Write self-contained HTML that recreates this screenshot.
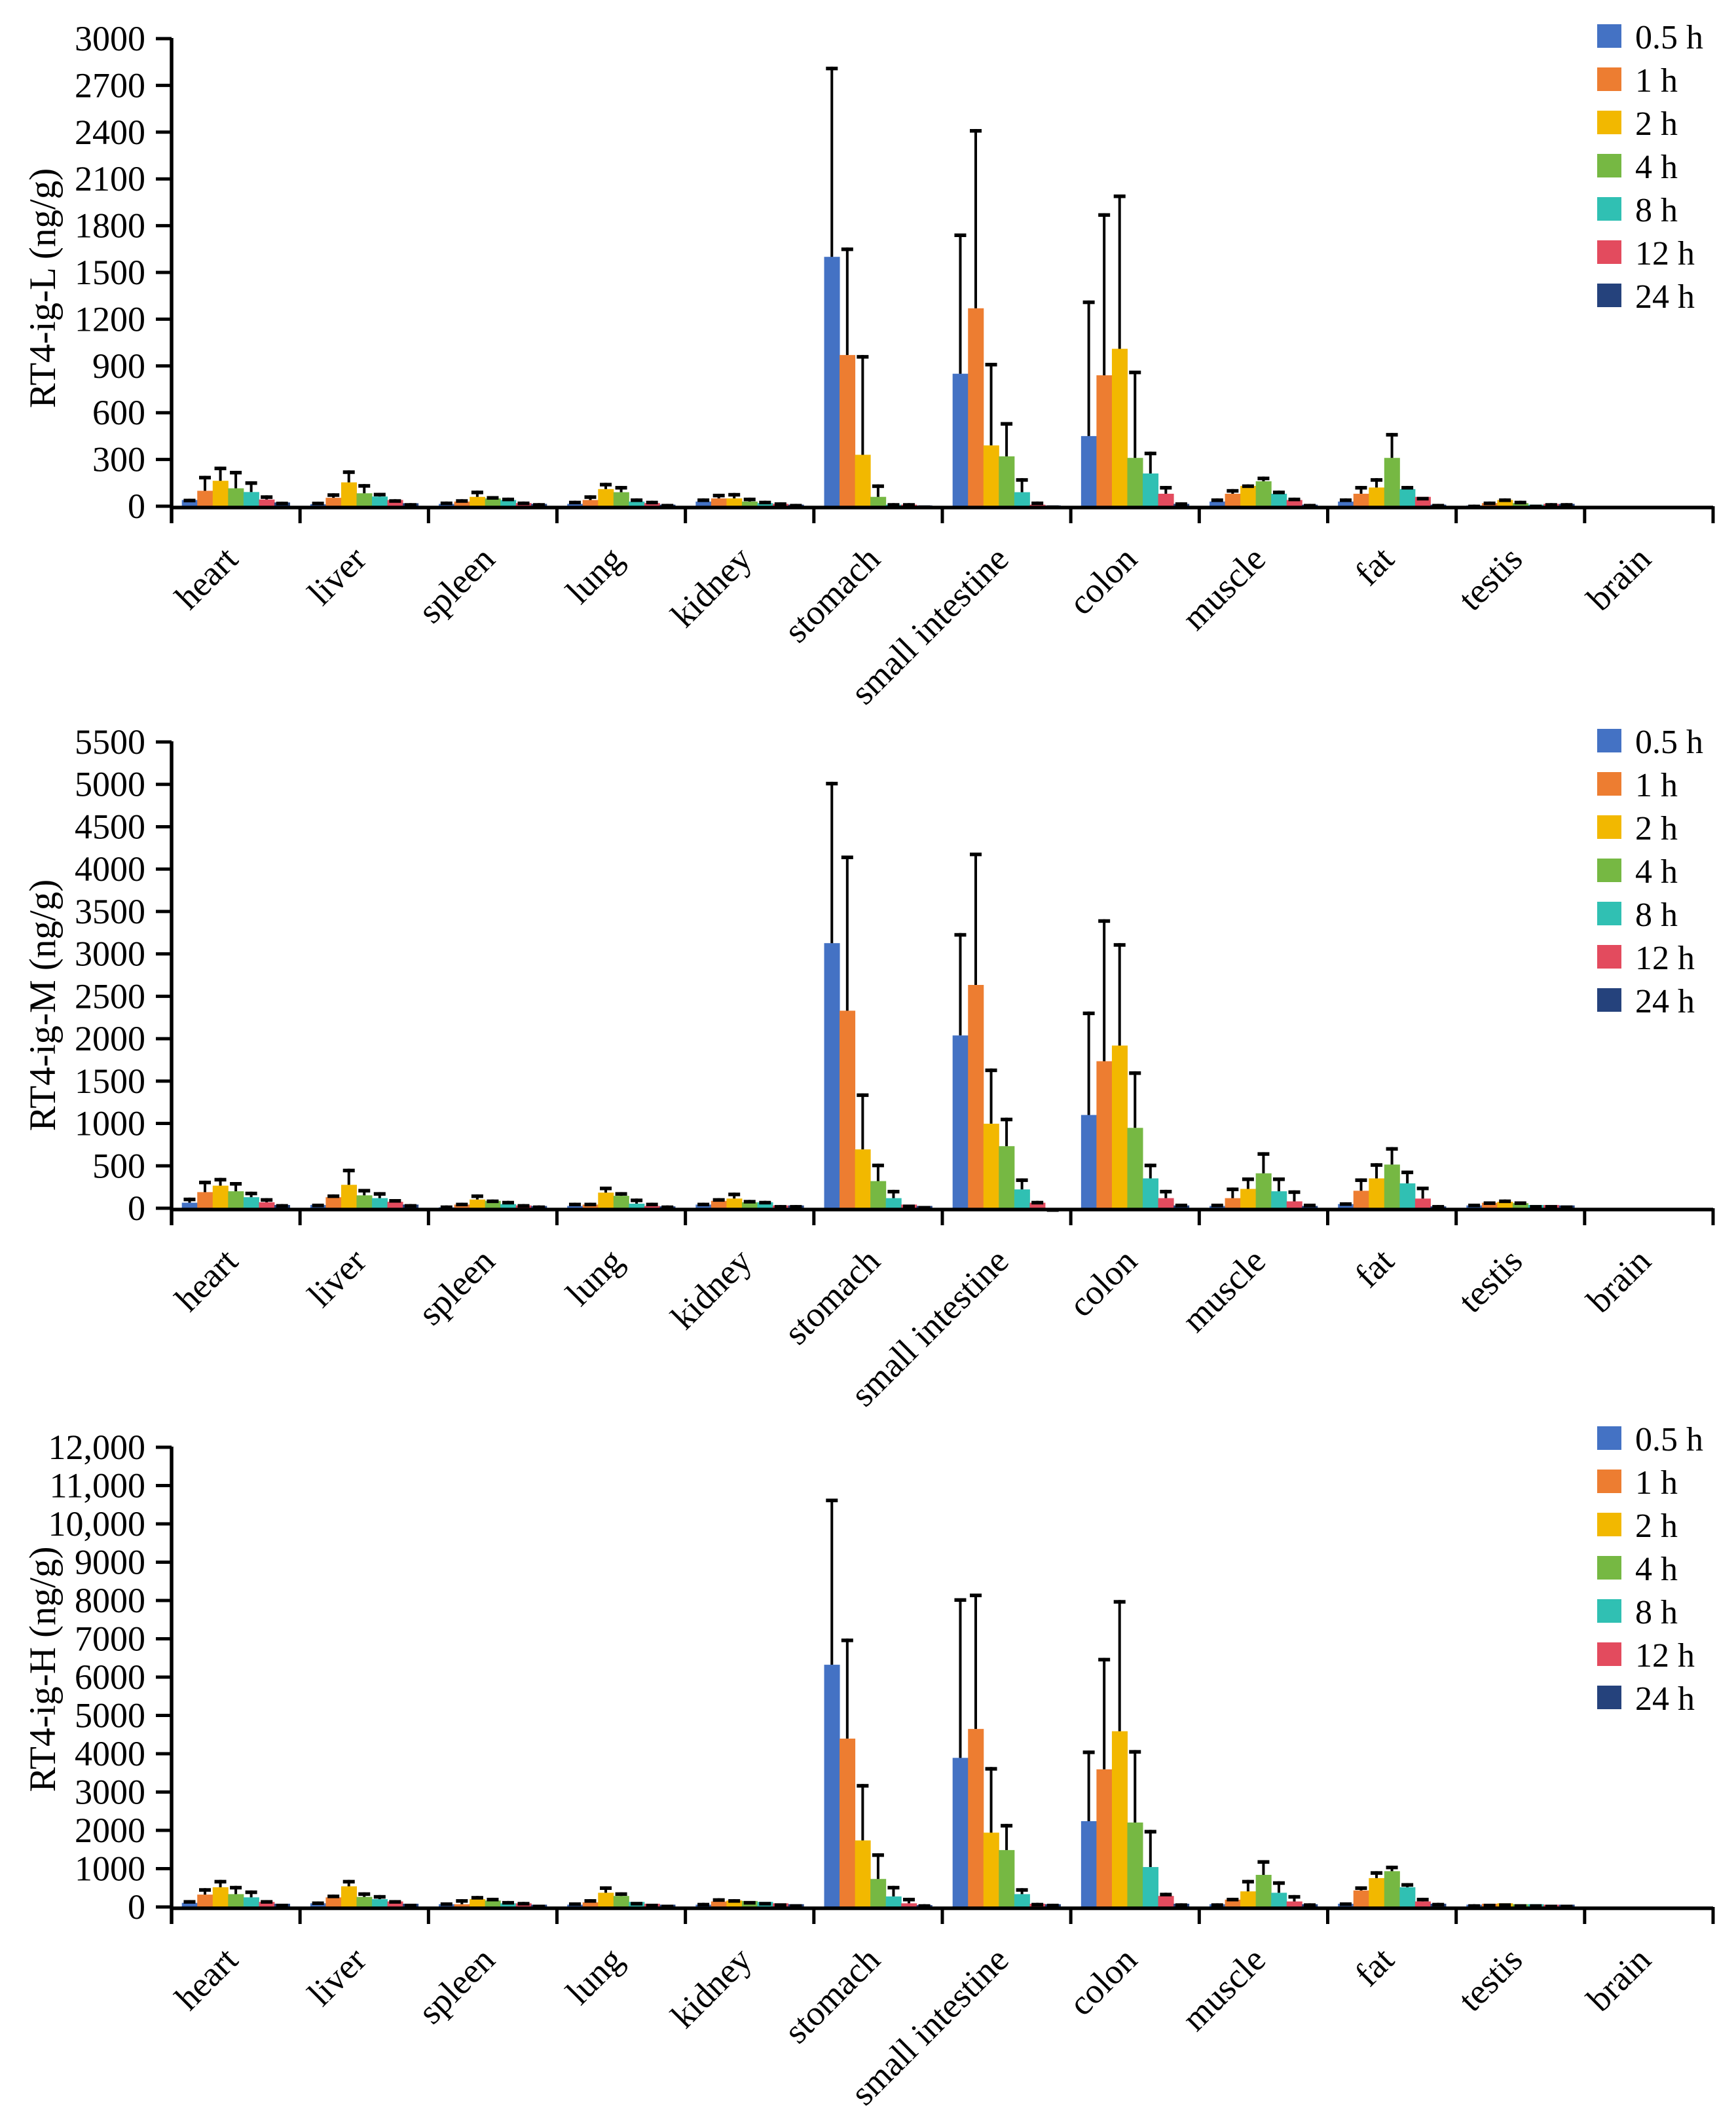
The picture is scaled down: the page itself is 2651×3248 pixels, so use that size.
<!DOCTYPE html>
<html><head><meta charset="utf-8"><style>
html,body{margin:0;padding:0;background:#fff;}
svg{display:block;}
text{font-family:"Liberation Serif",serif;fill:#000;}
</style></head><body>
<svg id="chart" width="2651" height="3248" viewBox="0 0 2651 3248" xmlns="http://www.w3.org/2000/svg"></svg>
<script>
const categories = ["heart","liver","spleen","lung","kidney","stomach","small intestine","colon","muscle","fat","testis","brain"];
const seriesNames = ["0.5 h","1 h","2 h","4 h","8 h","12 h","24 h"];
const seriesColors = ["#4472C4","#ED7D31","#F2B800","#76B843","#30C0B3","#E34B5E","#25427C"];

// Panel L (means per category, 7 time points) and upper error values
const meanL = [
 [40,99,163,115,91,43,24],[13,54,153,83,62,40,19],[15,30,60,50,40,20,15],[15,40,110,90,30,20,10],
 [30,50,50,30,20,15,10],[1600,970,330,60,10,10,5],[850,1270,390,320,90,10,5],[450,840,1010,310,210,80,15],
 [30,80,130,160,80,40,10],[30,80,120,310,110,60,10],[5,20,40,20,10,15,15],[0,0,0,0,0,0,0]];
const errL = [
 [48,195,254,227,160,70,29],[29,83,230,142,86,45,20],[30,45,100,65,55,30,20],[35,70,150,130,50,35,15],
 [50,80,85,55,35,25,15],[2820,1660,970,140,20,20,5],[1750,2420,920,540,180,30,5],[1320,1880,2000,870,350,130,25],
 [50,110,140,190,100,55,15],[50,130,180,470,130,60,15],[10,30,50,35,10,20,20],[0,0,0,0,0,0,0]];
// Panel M
const meanM = [
 [65,190,266,200,130,70,38],[38,130,276,152,119,76,43],[11,43,103,87,49,33,27],[27,43,184,146,54,27,22],
 [43,87,114,70,70,33,33],[3127,2330,694,320,119,43,27],[2038,2634,997,732,222,65,0],[1100,1734,1919,948,352,119,33],
 [27,119,228,412,200,81,27],[49,206,352,515,293,114,22],[33,65,76,60,38,38,33],[0,0,0,0,0,0,0]];
const errM = [
 [125,325,358,309,195,119,49],[54,163,466,228,190,108,49],[33,65,163,103,87,49,33],[65,65,255,190,114,65,33],
 [65,119,184,98,87,38,38],[5030,4160,1355,526,217,43,27],[3246,4195,1648,1068,352,87,0],[2320,3409,3127,1615,526,217,54],
 [54,244,363,661,363,211,54],[70,352,531,721,444,255,38],[54,81,103,81,38,38,33],[0,0,0,0,0,0,0]];
// Panel H
const meanH = [
 [108,323,515,335,251,132,84],[96,251,539,263,204,144,84],[72,72,204,168,96,96,60],[60,120,371,287,132,84,60],
 [60,144,168,156,132,96,72],[6323,4395,1737,731,275,96,48],[3892,4647,1940,1485,335,84,72],[2240,3593,4587,2204,1042,287,84],
 [72,192,407,838,371,144,72],[84,431,754,934,515,144,84],[60,84,96,72,72,60,60],[0,0,0,0,0,0,0]];
const errH = [
 [180,491,707,551,431,180,84],[144,323,707,383,311,180,84],[120,204,287,240,156,132,60],[120,204,539,383,132,84,60],
 [108,228,204,156,132,96,72],[10659,7006,3210,1401,551,240,72],[8060,8180,3653,2168,491,108,84],[4084,6503,8012,4096,2012,371,96],
 [96,240,707,1222,671,311,96],[120,539,934,1078,623,240,108],[72,84,96,72,72,60,60],[0,0,0,0,0,0,0]];

const ticksL = ["0","300","600","900","1200","1500","1800","2100","2400","2700","3000"];
const ticksM = ["0","500","1000","1500","2000","2500","3000","3500","4000","4500","5000","5500"];
const ticksH = ["0","1000","2000","3000","4000","5000","6000","7000","8000","9000","10,000","11,000","12,000"];

const NS = "http://www.w3.org/2000/svg";
const svg = document.getElementById("chart");
function mk(tag, attrs, parent){ const e=document.createElementNS(NS,tag); for(const k in attrs) e.setAttribute(k,attrs[k]); (parent||svg).appendChild(e); return e; }

const X0 = 262, X1 = 2616;
const catW = (X1 - X0) / categories.length;
const barW = catW * 0.12;
const xCat = i => X0 + i * catW;
const xBar = (i, s) => xCat(i) + (catW - barW * seriesNames.length) / 2 + s * barW;

const panels = [
 {key:"l", title:"RT4-ig-L (ng/g)", y0:773, yTop:59, max:3000, mean:meanL, err:errL, ticks:ticksL, titleY:440, legY:37},
 {key:"m", title:"RT4-ig-M (ng/g)", y0:1845, yTop:1133, max:5500, mean:meanM, err:errM, ticks:ticksM, titleY:1535, legY:1113},
 {key:"h", title:"RT4-ig-H (ng/g)", y0:2912, yTop:2210, max:12000, mean:meanH, err:errH, ticks:ticksH, titleY:2549, legY:2178}
];

panels.forEach(p => {
  const g = mk("g", {});
  
  
  const yS = v => p.y0 - (v / p.max) * (p.y0 - p.yTop);

  // bars and error bars
  p.mean.forEach((row, i) => {
    row.forEach((v, s) => {
      const x = xBar(i, s);
      const top = yS(v);
      const r = mk("rect", {x:x, y:top, width:barW+0.5, height:Math.max(0, p.y0 - top), fill:seriesColors[s]}, g);
      
      
      const e = p.err[i][s];
      if (i < categories.length - 1) {
        const cx = x + barW/2, ey = yS(e);
        const eb = mk("path", {d:`M${cx} ${top} V${ey} M${cx-9} ${ey+2.5} H${cx+9}`, stroke:"#000", "stroke-width":4, fill:"none"}, g);
        eb.setAttribute('d', `M${cx} ${top} V${ey}`);
        
        
        const cap = mk("rect", {x:cx-9, y:ey, width:18, height:5.5, fill:"#000"}, g);
        
        
      }
    });
  });

  // y axis
  const ya = mk("line", {x1:X0, y1:p.yTop-1, x2:X0, y2:p.y0+26, stroke:"#000", "stroke-width":5.5}, g);
  
  
  p.ticks.forEach((t, k) => {
    const y = p.y0 - k * (p.y0 - p.yTop) / (p.ticks.length - 1);
    mk("line", {x1:X0-24, y1:y, x2:X0, y2:y, stroke:"#000", "stroke-width":5}, g);
    const tl = mk("text", {x:222, y:y+18, "text-anchor":"end", "font-size":54}, g);
    tl.textContent = t;
    
    
  });
  // x axis
  const xa = mk("line", {x1:X0, y1:p.y0+2, x2:X1, y2:p.y0+2, stroke:"#000", "stroke-width":5.5}, g);
  
  
  for (let i = 1; i <= categories.length; i++) {
    mk("line", {x1:xCat(i), y1:p.y0, x2:xCat(i), y2:p.y0+26, stroke:"#000", "stroke-width":5}, g);
  }
  categories.forEach((c, i) => {
    const ax = xCat(i) + catW/2 + 6, ay = p.y0 + 84;
    const t = mk("text", {x:ax, y:ay, "text-anchor":"end", "font-size":54, transform:`rotate(-45 ${ax} ${ay})`}, g);
    t.textContent = c;
    
    
  });
  // y title
  const tt = mk("text", {x:84, y:p.titleY, "text-anchor":"middle", "font-size":57, transform:`rotate(-90 84 ${p.titleY})`}, g);
  tt.textContent = p.title;
  
  
  // legend
  seriesNames.forEach((n, s) => {
    const y = p.legY + s * 66;
    const sw = mk("rect", {x:2439, y:y, width:37, height:36, fill:seriesColors[s]}, g);
    
    
    const lt = mk("text", {x:2497, y:y+37, "font-size":52}, g);
    lt.textContent = n;
    
    
  });
});
</script>
</body></html>
